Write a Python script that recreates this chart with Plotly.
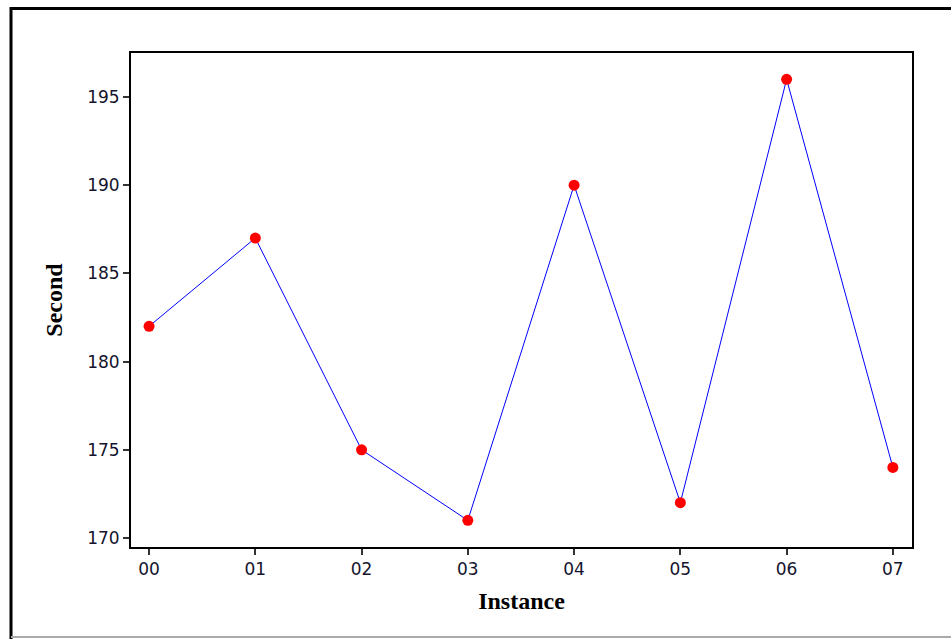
import plotly.graph_objects as go

categories = ["00", "01", "02", "03", "04", "05", "06", "07"]
seconds = [182, 187, 175, 171, 190, 172, 196, 174]
y_ticks = [170, 175, 180, 185, 190, 195]

xs = list(range(len(categories)))

fig = go.Figure()
fig.add_trace(go.Scatter(
    x=xs, y=seconds, mode="lines+markers",
    line=dict(color="#0000ff", width=1),
    marker=dict(color="#ff0000", size=11),
    showlegend=False,
))

tickfont = dict(family="DejaVu Sans", size=17, color="#14142e")
titlefont = dict(family="Liberation Serif", size=24, color="black")

W, H = 951, 639
L, R, T, B = 131, 39, 53, 92
pw, ph = W - L - R, H - T - B

fig.update_layout(
    width=W, height=H,
    margin=dict(l=L, r=R, t=T, b=B),
    paper_bgcolor="white", plot_bgcolor="white",
    xaxis=dict(
        range=[-0.17, 7.18], tickmode="array", tickvals=xs, ticktext=categories,
        showgrid=False, zeroline=False, showline=True, linecolor="black", linewidth=2,
        mirror=True, ticks="outside", ticklen=6, tickwidth=2, tickcolor="#333",
        tickfont=tickfont,
        title=dict(text="<b>Instance</b>", font=titlefont, standoff=14),
    ),
    yaxis=dict(
        range=[169.49, 197.49], tickmode="array", tickvals=y_ticks,
        showgrid=False, zeroline=False, showline=True, linecolor="black", linewidth=2,
        mirror=True, ticks="outside", ticklen=6, tickwidth=2, tickcolor="#333",
        tickfont=tickfont,
        title=dict(text="<b>Second</b>", font=titlefont, standoff=18),
    ),
)

def px_x(p):
    return (p - L) / pw

def px_y(p):
    return 1 - (p - T) / ph

# outer frame
fig.add_shape(type="line", xref="paper", yref="paper",
              x0=px_x(11), x1=px_x(W + 5), y0=px_y(8.5), y1=px_y(8.5),
              line=dict(color="black", width=3))
fig.add_shape(type="line", xref="paper", yref="paper",
              x0=px_x(11), x1=px_x(11), y0=px_y(7), y1=px_y(H + 5),
              line=dict(color="black", width=3))
fig.add_shape(type="line", xref="paper", yref="paper",
              x0=px_x(11), x1=px_x(W + 5), y0=px_y(637), y1=px_y(637),
              line=dict(color="#aaaaaa", width=2))

fig.write_html(
    "out.html",
    config={"displayModeBar": False},
    post_script="document.body.style.margin='0';document.body.style.overflow='hidden';",
)
